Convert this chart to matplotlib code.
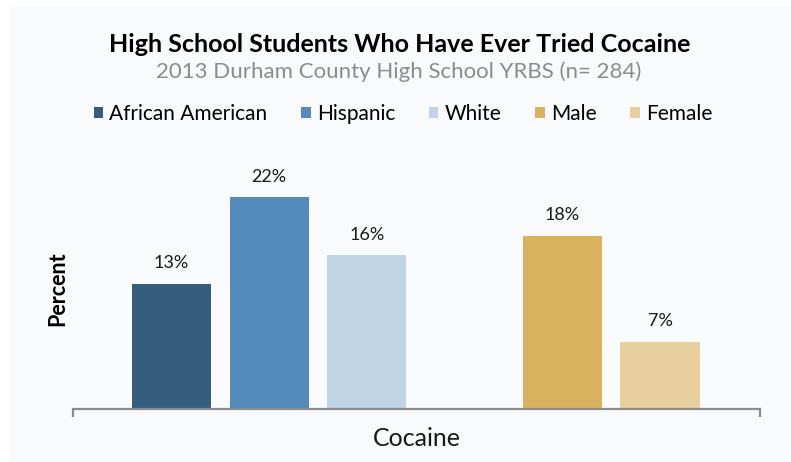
import matplotlib
matplotlib.use("Agg")
import matplotlib.pyplot as plt
from matplotlib.patches import Rectangle

categories = ["African American", "Hispanic", "White", "Male", "Female"]
values = [13, 22, 16, 18, 7]
positions = [0, 1, 2, 4, 5]
colors = ["#355E7E", "#558BBA", "#C0D4E5", "#D8B25E", "#E8D09E"]
group_label = "Cocaine"

W, H = 791, 462
fig = plt.figure(figsize=(W / 100, H / 100), dpi=100)
fig.patch.set_facecolor("white")
fig.add_artist(Rectangle((10 / W, 0), 1 - 10 / W, 1 - 6 / H, transform=fig.transFigure,
                         facecolor="#F9FAFC", edgecolor="none", zorder=-10))

base_font = "Lato"
ax_left, ax_right = 73, 760
baseline = 409
px_per_pct = 9.62
ymax = 25
ax = fig.add_axes([ax_left / W, (H - baseline) / H, (ax_right - ax_left) / W, ymax * px_per_pct / H])
ax.set_facecolor("none")

spacing = 97.7
x0 = -(171.5 - ax_left) / spacing
x1 = x0 + (ax_right - ax_left) / spacing
ax.bar(positions, values, width=0.81, color=colors, zorder=2)
for p, v in zip(positions, values):
    ax.annotate(f"{v}%", (p, v), xytext=(0, 9), textcoords="offset points", ha="center",
                va="bottom", fontsize=13, family=base_font, color="#1a1a1a", annotation_clip=False)

ax.set_xlim(x0, x1)
ax.set_ylim(0, ymax)
for s in ["top", "right", "left"]:
    ax.spines[s].set_visible(False)
ax.spines["bottom"].set_color("#8C8C8C")
ax.spines["bottom"].set_linewidth(1.6)
ax.set_yticks([])
ax.set_xticks([x0, x1])
ax.set_xticklabels(["", ""])
ax.tick_params(axis="x", length=6, width=1.6, color="#8C8C8C", direction="out")

fig.text(416.5 / W, 1 - 438 / H, group_label, ha="center", va="center", fontsize=18,
         family=base_font, color="#1a1a1a")
fig.text(58 / W, 1 - 289 / H, "Percent", ha="center", va="center", rotation=90,
         fontsize=15.5, fontweight="bold", family=base_font, color="black")

fig.text(399.5 / W, 1 - 44 / H, "High School Students Who Have Ever Tried Cocaine",
         ha="center", va="center", fontsize=18, fontweight="bold", family=base_font, color="black")
fig.text(399 / W, 1 - 72 / H, "2013 Durham County High School YRBS (n= 284)",
         ha="center", va="center", fontsize=16, family=base_font, color="#8C8C8C")

handles = [Rectangle((0, 0), 1, 1, facecolor=c, edgecolor="none") for c in colors]
leg = fig.legend(handles, categories, loc="center", bbox_to_anchor=(403 / W, 1 - 114 / H),
                 ncol=5, frameon=False, prop={"family": base_font, "size": 15},
                 handlelength=0.45, handleheight=0.45, handletextpad=0.3, columnspacing=1.62)

fig.savefig("out.png", dpi=100, facecolor=fig.get_facecolor())
